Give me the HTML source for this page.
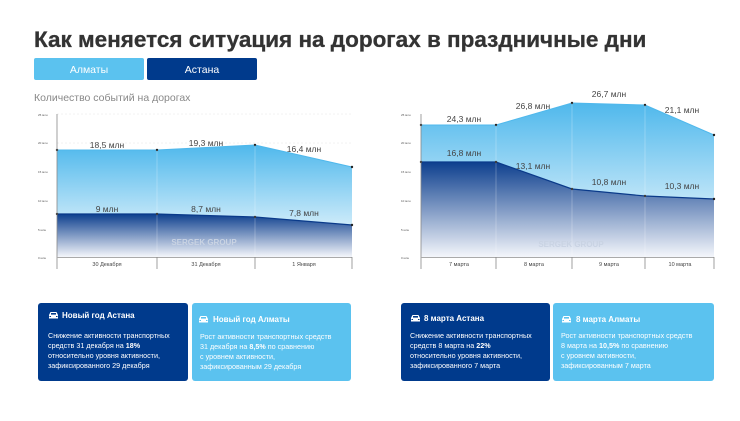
<!DOCTYPE html>
<html><head><meta charset="utf-8"><style>
body{margin:0;background:#fff;width:740px;height:416px;overflow:hidden;font-family:"Liberation Sans",sans-serif}
</style></head><body>
<svg width="740" height="416" xmlns="http://www.w3.org/2000/svg" font-family="Liberation Sans, sans-serif">
<defs>
<linearGradient id="gl" x1="0" y1="0" x2="0" y2="1"><stop offset="0" stop-color="#4fb8ec"/><stop offset="1" stop-color="#ffffff"/></linearGradient>
<linearGradient id="gd" x1="0" y1="0" x2="0" y2="1"><stop offset="0" stop-color="#0d3f8e"/><stop offset="1" stop-color="#f4f6fb"/></linearGradient>
<g id="car"><path d="M1,4 L2.5,1 L8.5,1 L10,4 L10,7.5 L1,7.5 Z" fill="#fff"/><rect x="3" y="2" width="5" height="1.6" fill="currentColor"/><rect x="1.5" y="5" width="1.5" height="1" fill="currentColor"/><rect x="8" y="5" width="1.5" height="1" fill="currentColor"/></g>
</defs>
<text x="34" y="47" font-size="22.5" font-weight="bold" fill="#333" stroke="#333" stroke-width="0.3">Как меняется ситуация на дорогах в праздничные дни</text>
<rect x="34" y="58" width="110" height="22" rx="2" fill="#5bc2ef"/>
<text x="89" y="73" font-size="10.5" fill="#fff" text-anchor="middle">Алматы</text>
<rect x="147" y="58" width="110" height="22" rx="2" fill="#003a8c"/>
<text x="202" y="73" font-size="10.5" fill="#fff" text-anchor="middle">Астана</text>
<text x="34" y="101" font-size="10.5" fill="#888">Количество событий на дорогах</text>

<!-- left chart -->
<g font-size="3" fill="#555">
<text x="38" y="116">25 млн</text><text x="38" y="144">20 млн</text><text x="38" y="173">15 млн</text><text x="38" y="202">10 млн</text><text x="38" y="231">5 млн</text><text x="38" y="259">0 млн</text>
</g>
<g stroke="#e6e6e6" stroke-width="0.5" stroke-dasharray="2,2"><line x1="57" y1="114" x2="352" y2="114"/><line x1="57" y1="143" x2="352" y2="143"/><line x1="57" y1="171" x2="352" y2="171"/><line x1="57" y1="200" x2="352" y2="200"/><line x1="57" y1="229" x2="352" y2="229"/></g>
<polygon points="57,150 157,150 255,145 352,167 352,257 57,257" fill="url(#gl)"/>
<polyline points="57,150 157,150 255,145 352,167" fill="none" stroke="#4fb8ec" stroke-width="1"/>
<polygon points="57,214 157,214 255,217 352,225 352,257 57,257" fill="url(#gd)"/>
<polyline points="57,214 157,214 255,217 352,225" fill="none" stroke="#0a3a8a" stroke-width="1.2"/>
<g fill="#222"><circle cx="57" cy="150" r="1.2"/><circle cx="157" cy="150" r="1.2"/><circle cx="255" cy="145" r="1.2"/><circle cx="352" cy="167" r="1.2"/><circle cx="57" cy="214" r="1.2"/><circle cx="157" cy="214" r="1.2"/><circle cx="255" cy="217" r="1.2"/><circle cx="352" cy="225" r="1.2"/></g>
<g stroke="#fff" stroke-width="0.6" opacity="0.4"><line x1="157" y1="150" x2="157" y2="257"/><line x1="255" y1="145" x2="255" y2="257"/></g>
<g font-size="8.5" fill="#444" text-anchor="middle"><text x="107" y="148">18,5 млн</text><text x="206" y="146">19,3 млн</text><text x="304" y="152">16,4 млн</text><text x="107" y="212">9 млн</text><text x="206" y="212">8,7 млн</text><text x="304" y="216">7,8 млн</text></g>
<text x="204" y="245" font-size="8" font-weight="bold" fill="#c9d3e3" text-anchor="middle">SERGEK GROUP</text>
<line x1="57" y1="114" x2="57" y2="269" stroke="#888" stroke-width="0.8"/>
<line x1="57" y1="257.5" x2="352" y2="257.5" stroke="#aaa" stroke-width="1"/>
<g stroke="#888" stroke-width="0.8"><line x1="157" y1="257" x2="157" y2="269"/><line x1="255" y1="257" x2="255" y2="269"/><line x1="352" y1="257" x2="352" y2="269"/></g>
<g font-size="5.5" fill="#444" text-anchor="middle"><text x="107" y="266">30 Декабря</text><text x="206" y="266">31 Декабря</text><text x="304" y="266">1 Января</text></g>

<!-- right chart -->
<g font-size="3" fill="#555">
<text x="401" y="116">25 млн</text><text x="401" y="144">20 млн</text><text x="401" y="173">15 млн</text><text x="401" y="202">10 млн</text><text x="401" y="231">5 млн</text><text x="401" y="259">0 млн</text>
</g>
<g stroke="#e6e6e6" stroke-width="0.5" stroke-dasharray="2,2"><line x1="421" y1="143" x2="714" y2="143"/><line x1="421" y1="171" x2="714" y2="171"/><line x1="421" y1="200" x2="714" y2="200"/><line x1="421" y1="229" x2="714" y2="229"/></g>
<polygon points="421,125 496,125 572,103 645,105 714,135 714,257 421,257" fill="url(#gl)"/>
<polyline points="421,125 496,125 572,103 645,105 714,135" fill="none" stroke="#4fb8ec" stroke-width="1"/>
<polygon points="421,162 496,162 572,189 645,196 714,199 714,257 421,257" fill="url(#gd)"/>
<polyline points="421,162 496,162 572,189 645,196 714,199" fill="none" stroke="#0a3a8a" stroke-width="1.2"/>
<g fill="#222"><circle cx="421" cy="125" r="1.2"/><circle cx="496" cy="125" r="1.2"/><circle cx="572" cy="103" r="1.2"/><circle cx="645" cy="105" r="1.2"/><circle cx="714" cy="135" r="1.2"/><circle cx="421" cy="162" r="1.2"/><circle cx="496" cy="162" r="1.2"/><circle cx="572" cy="189" r="1.2"/><circle cx="645" cy="196" r="1.2"/><circle cx="714" cy="199" r="1.2"/></g>
<g stroke="#fff" stroke-width="0.6" opacity="0.4"><line x1="496" y1="125" x2="496" y2="257"/><line x1="572" y1="103" x2="572" y2="257"/><line x1="645" y1="105" x2="645" y2="257"/></g>
<g font-size="8.5" fill="#444" text-anchor="middle"><text x="464" y="122">24,3 млн</text><text x="533" y="109">26,8 млн</text><text x="609" y="97">26,7 млн</text><text x="682" y="113">21,1 млн</text><text x="464" y="156">16,8 млн</text><text x="533" y="169">13,1 млн</text><text x="609" y="185">10,8 млн</text><text x="682" y="189">10,3 млн</text></g>
<text x="571" y="247" font-size="8" font-weight="bold" fill="#c9d3e3" text-anchor="middle">SERGEK GROUP</text>
<line x1="421" y1="114" x2="421" y2="269" stroke="#888" stroke-width="0.8"/>
<line x1="421" y1="257.5" x2="714" y2="257.5" stroke="#aaa" stroke-width="1"/>
<g stroke="#888" stroke-width="0.8"><line x1="496" y1="257" x2="496" y2="269"/><line x1="572" y1="257" x2="572" y2="269"/><line x1="645" y1="257" x2="645" y2="269"/><line x1="714" y1="257" x2="714" y2="269"/></g>
<g font-size="5.5" fill="#444" text-anchor="middle"><text x="459" y="266">7 марта</text><text x="534" y="266">8 марта</text><text x="609" y="266">9 марта</text><text x="680" y="266">10 марта</text></g>

<!-- cards -->
<g font-size="7.2" fill="#fff">
<rect x="38" y="303" width="150" height="78" rx="3" fill="#003a8c"/>
<rect x="192" y="303" width="159" height="78" rx="3" fill="#5bc2ef"/>
<rect x="401" y="303" width="149" height="78" rx="3" fill="#003a8c"/>
<rect x="553" y="303" width="161" height="78" rx="3" fill="#5bc2ef"/>
<g font-weight="bold" font-size="8"><text x="62" y="318">Новый год Астана</text><text x="213" y="322">Новый год Алматы</text><text x="424" y="321">8 марта Астана</text><text x="576" y="322">8 марта Алматы</text></g>
<use href="#car" x="48" y="311" color="#003a8c"/>
<use href="#car" x="198" y="315" color="#5bc2ef"/>
<use href="#car" x="410" y="314" color="#003a8c"/>
<use href="#car" x="561" y="315" color="#5bc2ef"/>
<text x="48" y="338"><tspan x="48">Снижение активности транспортных</tspan><tspan x="48" dy="10">средств 31 декабря на <tspan font-weight="bold">18%</tspan></tspan><tspan x="48" dy="10">относительно уровня активности,</tspan><tspan x="48" dy="10">зафиксированного 29 декабря</tspan></text>
<text x="200" y="339"><tspan x="200">Рост активности транспортных средств</tspan><tspan x="200" dy="10">31 декабря на <tspan font-weight="bold">8,5%</tspan> по сравнению</tspan><tspan x="200" dy="10">с уровнем активности,</tspan><tspan x="200" dy="10">зафиксированным 29 декабря</tspan></text>
<text x="410" y="338"><tspan x="410">Снижение активности транспортных</tspan><tspan x="410" dy="10">средств 8 марта на <tspan font-weight="bold">22%</tspan></tspan><tspan x="410" dy="10">относительно уровня активности,</tspan><tspan x="410" dy="10">зафиксированного 7 марта</tspan></text>
<text x="561" y="338"><tspan x="561">Рост активности транспортных средств</tspan><tspan x="561" dy="10">8 марта на <tspan font-weight="bold">10,5%</tspan> по сравнению</tspan><tspan x="561" dy="10">с уровнем активности,</tspan><tspan x="561" dy="10">зафиксированным 7 марта</tspan></text>
</g>
</svg>
</body></html>
